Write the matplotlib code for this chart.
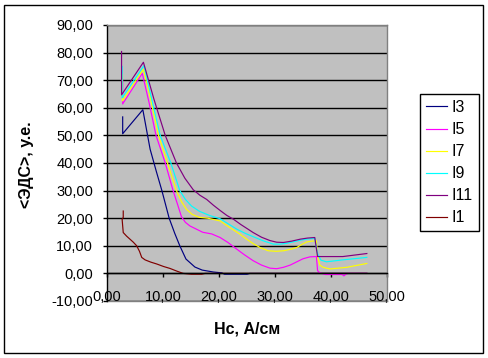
import matplotlib
matplotlib.use("Agg")
import matplotlib.pyplot as plt
from matplotlib.patches import Rectangle

plt.rcParams['font.family'] = ['Liberation Sans', 'DejaVu Sans']

# ---- data ----
x_i3 = [2.8, 2.8, 6.4, 7.7, 8.8, 9.8, 11.1, 12.1, 13.0, 14.1, 15.7, 17.0, 19.0, 20.5, 21.0, 25.0, 25.5, 46.4]
y_i3 = [56.7, 50.6, 59.3, 45.0, 37.0, 30.0, 20.0, 14.5, 10.0, 5.2, 2.3, 1.2, 0.5, 0.2, -0.3, -0.3, 0.0, 0.0]

x_i5 = [2.8, 2.8, 6.3, 7.5, 8.75, 10.4, 11.8, 12.6, 13.3, 14.0, 14.8, 16.0, 17.1, 18.7, 20.2, 21.6, 22.9,
        24.5, 26.1, 27.6, 29.1, 30.3, 31.5, 32.7, 33.9, 35.0, 36.25, 37.4, 37.6, 38.0, 39.0, 42.0,
        42.3, 42.6, 43.0, 46.4]
y_i5 = [70.0, 61.4, 72.5, 62.0, 50.0, 40.0, 30.0, 25.0, 20.5, 18.5, 17.2, 16.0, 14.9, 14.3, 13.0, 11.2, 9.2,
        6.8, 4.6, 3.0, 1.9, 1.7, 2.2, 3.0, 4.2, 5.3, 6.0, 6.1, 1.0, 0.2, -0.4, -0.4,
        -0.9, -0.4, 0.0, 0.0]

x_i7 = [2.75, 2.75, 6.5, 7.8, 9.2, 10.8, 12.4, 13.3, 14.2, 15.2, 16.5, 18.0, 20.2, 22.0, 23.75, 25.0,
        26.1, 27.4, 28.8, 30.2, 31.5, 32.7, 33.9, 34.8, 35.7, 36.6, 37.4, 37.6, 38.0, 38.6, 39.8,
        42.8, 46.4]
y_i7 = [72.0, 62.5, 74.0, 63.0, 50.0, 40.0, 30.0, 26.0, 23.2, 21.4, 20.3, 20.0, 19.0, 16.5, 14.2, 12.3,
        10.8, 9.3, 8.2, 8.0, 8.2, 8.7, 9.4, 10.5, 11.4, 11.7, 11.8, 6.0, 3.0, 2.2, 1.6,
        2.2, 3.6]

x_i9 = [2.7, 2.7, 6.6, 8.0, 9.5, 11.4, 13.0, 14.0, 15.1, 16.5, 18.3, 20.2, 21.7, 23.2, 24.7, 26.1,
        27.9, 29.7, 30.9, 32.1, 33.4, 34.7, 35.9, 37.1, 37.6, 38.2, 39.2, 42.1, 46.4]
y_i9 = [75.0, 63.6, 75.3, 63.0, 50.0, 40.0, 30.0, 26.8, 24.4, 22.5, 21.0, 19.8, 17.9, 16.0, 14.5, 13.3,
        11.8, 10.6, 10.6, 10.9, 11.5, 12.1, 12.5, 12.7, 7.2, 4.8, 4.2, 4.9, 5.8]

x_i11 = [2.6, 2.6, 6.5, 8.4, 10.4, 12.4, 13.9, 15.4, 16.6, 17.8, 19.0, 20.2, 21.4, 22.6, 23.9, 25.2,
         26.1, 27.6, 29.1, 30.3, 31.5, 33.0, 34.5, 35.8, 37.1, 37.6, 42.1, 46.4]
y_i11 = [80.4, 64.7, 76.5, 63.0, 50.0, 40.0, 34.5, 30.3, 28.3, 26.8, 24.7, 22.8, 21.0, 19.6, 17.7, 16.0,
         14.8, 13.1, 11.9, 11.3, 11.2, 11.7, 12.4, 12.8, 13.0, 6.1, 6.1, 7.2]

x_i1 = [2.9, 2.9, 2.7, 2.9, 3.5, 4.1, 4.7, 5.3, 5.8, 6.2, 6.8, 7.8, 8.9, 10.1, 11.25, 12.5, 13.6,
        15.1, 16.9, 17.5, 46.4]
y_i1 = [22.6, 20.3, 19.6, 14.8, 13.5, 12.4, 11.3, 10.0, 8.0, 5.8, 4.9, 4.1, 3.4, 2.5, 1.8, 0.8, 0.0,
        -0.3, -0.3, 0.0, 0.0]

series_names = ['I3', 'I5', 'I7', 'I9', 'I11', 'I1']
series_colors = ['#000080', '#FF00FF', '#FFFF00', '#00FFFF', '#800080', '#800000']
series_x = [x_i3, x_i5, x_i7, x_i9, x_i11, x_i1]
series_y = [y_i3, y_i5, y_i7, y_i9, y_i11, y_i1]

x_ticks = [0, 10, 20, 30, 40, 50]
y_ticks = [-10, 0, 10, 20, 30, 40, 50, 60, 70, 80, 90]
x_label = 'Нс, А/см'
y_label = '<ЭДС>, у.е.'

W, H = 488, 358
fig = plt.figure(figsize=(W / 100, H / 100), dpi=100)
ax = fig.add_axes([107 / W, 1 - 301 / H, 280 / W, 276 / H])
ax.set_facecolor('#C0C0C0')

for xs, ys, c, n in zip(series_x, series_y, series_colors, series_names):
    ax.plot(xs, ys, color=c, lw=0.85, label=n)

ax.set_xlim(0, 50)
ax.set_ylim(-10, 90)

fmt = lambda v: f'{v:.2f}'.replace('.', ',')
ax.set_yticks(y_ticks)
ax.set_yticklabels([fmt(v) for v in y_ticks])
ax.set_xticks(x_ticks)
ax.set_xticklabels([fmt(v) for v in x_ticks])

ax.yaxis.grid(True, color='black', lw=1)
ax.xaxis.grid(False)
ax.set_axisbelow(True)

ax.spines['bottom'].set_position(('data', 0))
ax.spines['bottom'].set_color('black')
ax.spines['bottom'].set_linewidth(1)
ax.spines['left'].set_color('black')
ax.spines['left'].set_linewidth(1)
ax.spines['top'].set_color('#808080')
ax.spines['right'].set_color('#808080')
ax.spines['top'].set_linewidth(1)
ax.spines['right'].set_linewidth(1)
ax.axhline(-10, color='#808080', lw=1, clip_on=False, zorder=0.5)

ax.tick_params(axis='x', direction='out', length=3, width=1, pad=9.0, labelsize=10.5, colors='black')
ax.tick_params(axis='y', direction='out', length=3, width=1, pad=7, labelsize=10.5, colors='black')

fig.text(27 / W, 1 - 165 / H, y_label, rotation=90, ha='center', va='center',
         fontsize=11.5, fontweight='bold')
fig.text(247 / W, 1 - 329 / H, x_label, ha='center', va='center',
         fontsize=11.5, fontweight='bold')

leg = ax.legend(loc='upper left', bbox_to_anchor=(420 / W, 1 - 94 / H),
                bbox_transform=fig.transFigure, borderaxespad=0, fontsize=11.5,
                frameon=True, fancybox=False, shadow=False, handlelength=1.3,
                handletextpad=0.3, labelspacing=0.44, borderpad=0.38)
leg.get_frame().set_edgecolor('black')
leg.get_frame().set_linewidth(1)
leg.get_frame().set_facecolor('white')
leg.get_frame().set_alpha(1)

fig.patches.append(Rectangle((4 / W, 1 - 353 / H), 479 / W, 348 / H, transform=fig.transFigure,
                             fill=False, edgecolor='black', lw=1))

fig.savefig('out.png', dpi=100)
